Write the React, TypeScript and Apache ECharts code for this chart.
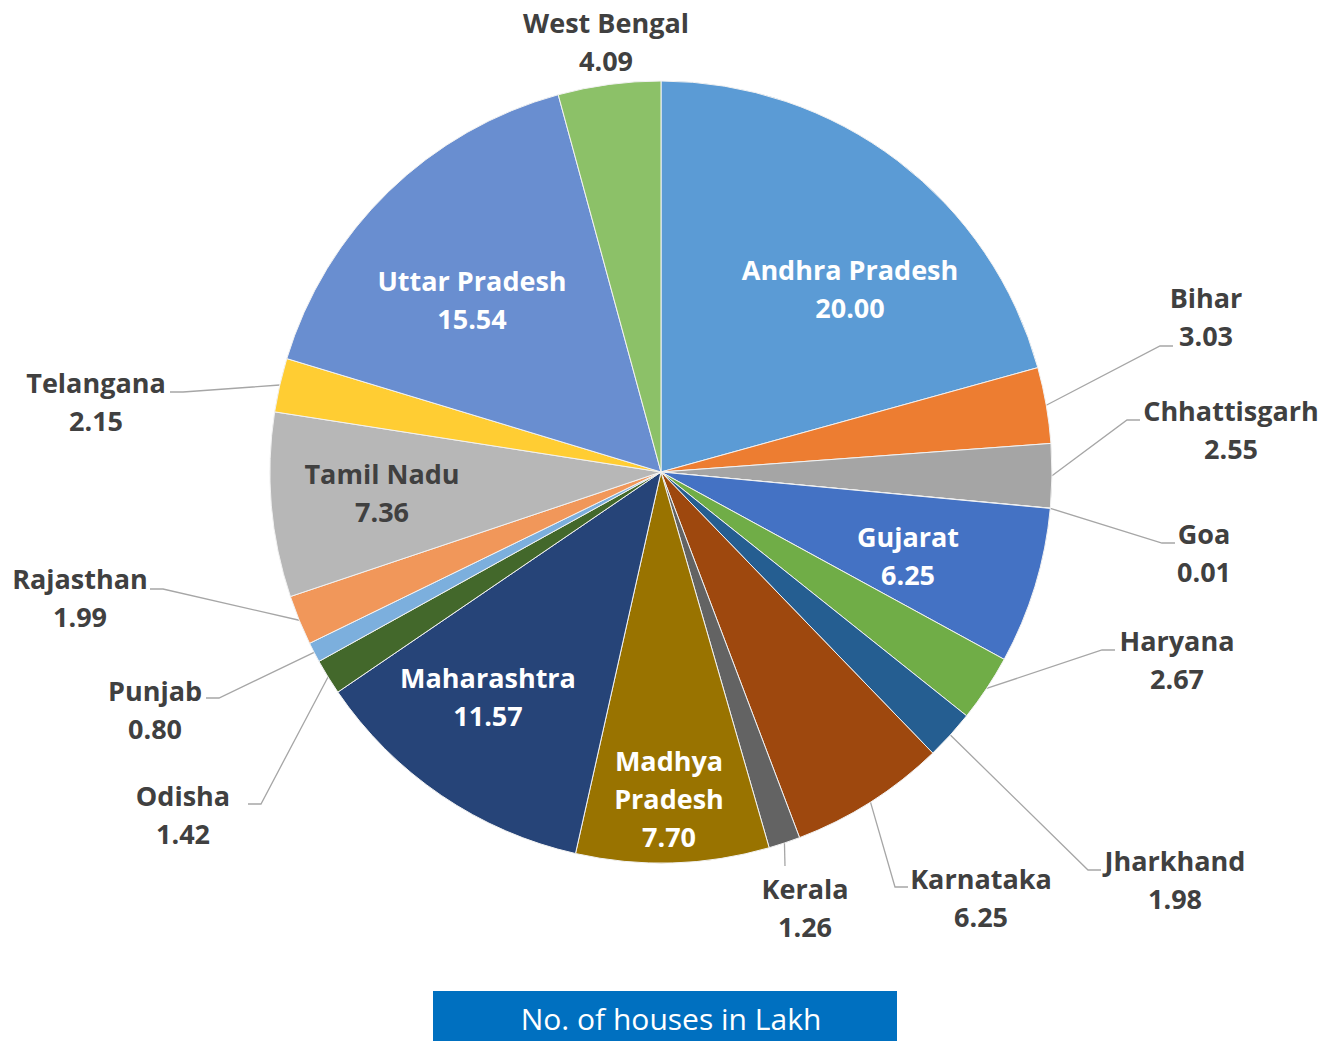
import React, { useEffect, useRef } from "react";
import * as echarts from "echarts";

const states = [
  "Andhra Pradesh", "Bihar", "Chhattisgarh", "Goa", "Gujarat", "Haryana",
  "Jharkhand", "Karnataka", "Kerala", "Madhya Pradesh", "Maharashtra", "Odisha",
  "Punjab", "Rajasthan", "Tamil Nadu", "Telangana", "Uttar Pradesh", "West Bengal",
];
const houses = [
  20.0, 3.03, 2.55, 0.01, 6.25, 2.67, 1.98, 6.25, 1.26, 7.7, 11.57, 1.42,
  0.8, 1.99, 7.36, 2.15, 15.54, 4.09,
];
const colors = [
  "#5B9BD5", "#ED7D31", "#A5A5A5", "#FFC000", "#4472C4", "#70AD47",
  "#255E91", "#9E480E", "#636363", "#997300", "#264478", "#43682B",
  "#7CAFDD", "#F1975A", "#B7B7B7", "#FFCD33", "#698ED0", "#8CC168",
];
const titleText = "No. of houses in Lakh";

// label placement (layout only): label centre, and optional leader-line end
type Place = { x: number; y: number; inside?: boolean; lx?: number; ly?: number; dark?: boolean; vertical?: boolean };
const placement: Record<string, Place> = {
  "Andhra Pradesh": { x: 850, y: 288, inside: true },
  "Bihar": { x: 1206, y: 316, lx: 1173, ly: 346 },
  "Chhattisgarh": { x: 1231, y: 429, lx: 1140, ly: 420 },
  "Goa": { x: 1204, y: 552, lx: 1175, ly: 543 },
  "Gujarat": { x: 908, y: 555, inside: true },
  "Haryana": { x: 1177, y: 659, lx: 1115, ly: 650 },
  "Jharkhand": { x: 1175, y: 879, lx: 1101, ly: 870 },
  "Karnataka": { x: 981, y: 897, lx: 908, ly: 887 },
  "Kerala": { x: 805, y: 907, lx: 785, ly: 866, vertical: true },
  "Madhya Pradesh": { x: 669, y: 798, inside: true },
  "Maharashtra": { x: 488, y: 696, inside: true },
  "Odisha": { x: 183, y: 814, lx: 248, ly: 804 },
  "Punjab": { x: 155, y: 709, lx: 206, ly: 698 },
  "Rajasthan": { x: 80, y: 597, lx: 150, ly: 589 },
  "Tamil Nadu": { x: 382, y: 492, inside: true, dark: true },
  "Telangana": { x: 96, y: 401, lx: 170, ly: 392 },
  "Uttar Pradesh": { x: 472, y: 299, inside: true },
  "West Bengal": { x: 606, y: 41 },
};

const FONT = "'Open Sans', 'Noto Sans', sans-serif";

export default function App() {
  const ref = useRef<HTMLDivElement>(null);
  useEffect(() => {
    if (!ref.current) return;
    const chart = echarts.init(ref.current, undefined, { renderer: "svg" });
    const data = states.map((name, i) => {
      const p = placement[name];
      const hasLine = p.lx !== undefined;
      return {
        name,
        value: houses[i],
        itemStyle: { color: colors[i] },
        label: {
          position: p.inside ? "inside" : "outside",
          color: p.inside && !p.dark ? "#FFFFFF" : "#404040",
        },
        labelLine: { show: hasLine },
      };
    });
    chart.setOption({
      animation: false,
      backgroundColor: "#FFFFFF",
      graphic: [
        {
          type: "rect",
          shape: { x: 433, y: 991, width: 464, height: 52 },
          style: { fill: "#0070C0" },
        },
        {
          type: "text",
          x: 671,
          y: 1018,
          style: {
            text: titleText,
            fill: "#FFFFFF",
            font: `400 30px ${FONT}`,
            align: "center",
            verticalAlign: "middle",
          },
        },
      ],
      series: [
        {
          type: "pie",
          center: [661, 472],
          radius: [0, 391],
          startAngle: 90,
          clockwise: true,
          avoidLabelOverlap: false,
          minShowLabelAngle: 0,
          data,
          itemStyle: { borderColor: "#F2F2F2", borderWidth: 1 },
          label: {
            show: true,
            fontFamily: FONT,
            fontWeight: "bold",
            fontSize: 27,
            lineHeight: 38,
            align: "center",
            formatter: (p: any) => {
              const nm = p.name === "Madhya Pradesh" ? "Madhya\nPradesh" : p.name;
              return nm + "\n" + Number(p.value).toFixed(2);
            },
          },
          labelLine: {
            show: true,
            lineStyle: { color: "#A6A6A6", width: 1.3 },
            length: 20,
            length2: 10,
          },
          labelLayout: (params: any) => {
            const name = states[params.dataIndex];
            const p = placement[name];
            const res: any = { x: p.x, y: p.y, align: "center", verticalAlign: "middle" };
            if (p.lx !== undefined && params.labelLinePoints) {
              const s = params.labelLinePoints[0];
              if (p.vertical) {
                res.labelLinePoints = [[s[0], s[1]], [p.lx, p.ly], [p.lx, p.ly]];
              } else {
                const dir = p.lx > 661 ? -1 : 1;
                res.labelLinePoints = [[s[0], s[1]], [p.lx + dir * 13, p.ly], [p.lx, p.ly]];
              }
            }
            return res;
          },
        },
      ],
    });
    return () => chart.dispose();
  }, []);
  return (
    <div
      ref={ref}
      style={{ position: "fixed", left: 0, top: 0, width: 1328, height: 1041 }}
    />
  );
}
